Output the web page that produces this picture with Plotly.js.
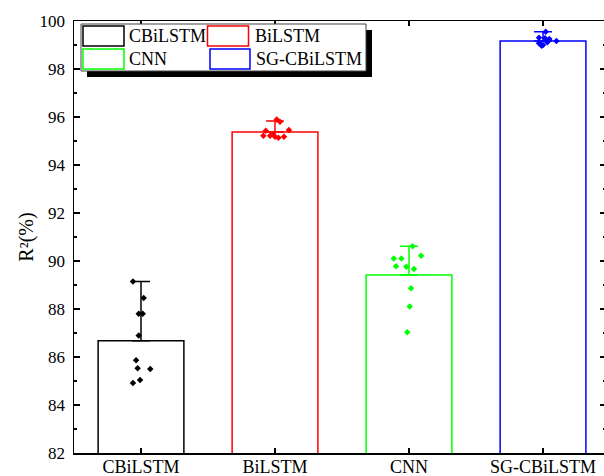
<!DOCTYPE html>
<html>
<head>
<meta charset="utf-8">
<script src="https://cdn.plot.ly/plotly-3.0.1.min.js"></script>
<style>
html,body{margin:0;padding:0;overflow:hidden;background:#fff;}
#chart{width:606px;height:476px;}
</style>
</head>
<body>
<div id="chart"></div>
<script>
// ---- data ----
var categories = ["CBiLSTM", "BiLSTM", "CNN", "SG-CBiLSTM"];
var colors = ["#000000", "#ff0000", "#00ff00", "#0000ff"];
var means = [86.68, 95.38, 89.42, 99.17];
var errPlus = [2.47, 0.45, 1.19, 0.38];

var ptsCBiLSTM = [89.15, 88.46, 87.80, 87.80, 86.90, 85.86, 85.53, 85.50, 85.04, 84.92];
var jitCBiLSTM = [-0.06, 0.02, -0.017, 0.013, -0.017, -0.037, -0.025, 0.069, -0.007, -0.06];

var ptsBiLSTM = [95.90, 95.80, 95.43, 95.46, 95.22, 95.22, 95.29, 95.18, 95.14, 95.18];
var jitBiLSTM = [0.013, 0.037, -0.069, 0.104, -0.087, -0.037, -0.013, 0.0, 0.025, 0.067];

var ptsCNN = [90.61, 90.22, 90.10, 90.10, 89.78, 89.76, 89.67, 88.86, 88.10, 87.03];
var jitCNN = [0.027, 0.09, -0.114, -0.057, -0.097, -0.02, 0.037, 0.015, 0.005, -0.013];

var ptsSG = [99.55, 99.30, 99.28, 99.25, 99.17, 99.11, 99.07, 99.03, 99.00, 98.97];
var jitSG = [0.02, -0.03, 0.015, 0.047, 0.1, 0.032, -0.03, -0.018, 0.0, -0.01];

var yTickVals = [82, 84, 86, 88, 90, 92, 94, 96, 98, 100];

// ---- build traces ----
var FONT = "Liberation Serif, Times New Roman, serif";
var traces = [];
for (var i = 0; i < categories.length; i++) {
  traces.push({
    type: "bar",
    x: [i],
    y: [means[i]],
    width: 0.64,
    marker: {color: "rgba(0,0,0,0)", line: {color: colors[i], width: 1.5}},
    error_y: {type: "data", symmetric: false, array: [errPlus[i]], arrayminus: [0],
              color: colors[i], thickness: 1.5, width: 9},
    showlegend: false,
    hoverinfo: "skip"
  });
}
var ptSets = [ptsCBiLSTM, ptsBiLSTM, ptsCNN, ptsSG];
var jitSets = [jitCBiLSTM, jitBiLSTM, jitCNN, jitSG];
for (var j = 0; j < categories.length; j++) {
  var xs = jitSets[j].map(function (d) { return j + d; });
  traces.push({
    type: "scatter",
    mode: "markers",
    x: xs,
    y: ptSets[j],
    marker: {symbol: "diamond", size: 5, color: colors[j]},
    showlegend: false,
    hoverinfo: "skip"
  });
}

// ---- custom legend (pixel -> paper helpers) ----
var L = 74, R = 606, T = 21, B = 453;
function px(x) { return (x - L) / (R - L); }
function py(y) { return (B - y) / (B - T); }
function rect(x0, y0, x1, y1, line, fill, w) {
  return {type: "rect", xref: "paper", yref: "paper", layer: "above",
          x0: px(x0), x1: px(x1), y0: py(y1), y1: py(y0),
          line: {color: line, width: w}, fillcolor: fill};
}
var shapes = [
  rect(87, 30, 372, 77, "#000", "#000", 0),
  rect(81, 24, 366, 71, "#444", "#fff", 1),
  rect(83, 26, 124, 46, colors[0], "rgba(0,0,0,0)", 1.5),
  rect(207.5, 26, 248.5, 46, colors[1], "rgba(0,0,0,0)", 1.5),
  rect(83, 49, 124, 69, colors[2], "rgba(0,0,0,0)", 1.5),
  rect(210, 49, 250, 69, colors[3], "rgba(0,0,0,0)", 1.5)
];
var legPos = [[127, 36], [253, 36], [127, 59], [254, 59]];
var annotations = categories.map(function (c, k) {
  return {xref: "paper", yref: "paper", x: px(legPos[k][0]), y: py(legPos[k][1]),
          xanchor: "left", yanchor: "middle", showarrow: false, text: c,
          font: {family: FONT, size: 18, color: "#000"}};
});

var layout = {
  width: 606, height: 476,
  margin: {l: 74, r: 0, t: 21, b: 23, pad: 0},
  paper_bgcolor: "#fff", plot_bgcolor: "#fff",
  barmode: "overlay",
  showlegend: false,
  font: {family: FONT, color: "#000"},
  xaxis: {
    range: [-0.5, 3.47],
    tickvals: [0, 1, 2, 3], ticktext: categories,
    ticks: "inside", ticklen: 5, tickwidth: 1.2, tickcolor: "#000",
    showline: true, linecolor: "#000", linewidth: 1.5, mirror: "allticks",
    showgrid: false, zeroline: false,
    tickfont: {family: FONT, size: 18, color: "#000"},
    ticklabelstandoff: -3
  },
  yaxis: {
    range: [82, 100],
    tickvals: yTickVals,
    ticks: "inside", ticklen: 6, tickwidth: 1.2, tickcolor: "#000",
    minor: {dtick: 1, ticks: "inside", ticklen: 3, tickcolor: "#000", tickwidth: 1.2, showgrid: false},
    showline: true, linecolor: "#000", linewidth: 1.5, mirror: "allticks",
    showgrid: false, zeroline: false,
    tickfont: {family: FONT, size: 17, color: "#000"},
    ticklabelstandoff: 4,
    title: {text: "R²(%)", font: {family: FONT, size: 20, color: "#000"}, standoff: 0}
  },
  shapes: shapes,
  annotations: annotations
};

Plotly.newPlot("chart", traces, layout, {displayModeBar: false, staticPlot: true});
</script>
</body>
</html>
